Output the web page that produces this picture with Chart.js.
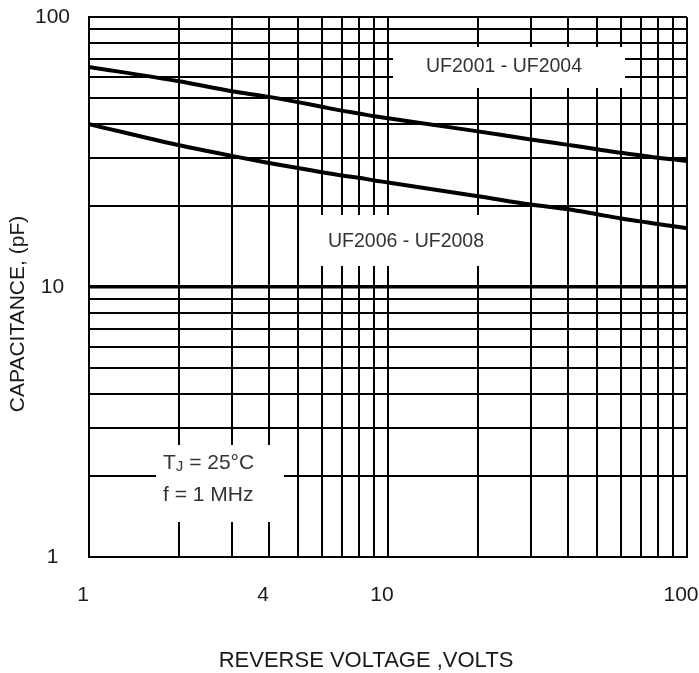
<!DOCTYPE html>
<html>
<head>
<meta charset="utf-8">
<script src="https://cdn.jsdelivr.net/npm/chart.js@4/dist/chart.umd.min.js"></script>
<style>
  body { margin: 0; background: #fff; }
  #wrap { width: 699px; height: 673px; }
</style>
</head>
<body>
<div id="wrap"><canvas id="js--chart" width="699" height="673"></canvas></div>
<script>
// reverse voltage (V) and capacitance (pF)
const voltage = [1, 2, 3, 4, 5, 6, 7, 8, 9, 10, 20, 30, 40, 50, 60, 70, 80, 90, 100];
const capUF2001 = [65.3, 57.8, 53.1, 50.6, 48.4, 46.5, 45.0, 43.9, 42.9, 42.2, 37.7, 35.2, 33.6, 32.4, 31.4, 30.7, 30.1, 29.7, 29.3];
const capUF2006 = [40.1, 33.5, 30.6, 28.8, 27.6, 26.6, 25.9, 25.4, 24.8, 24.4, 21.7, 20.2, 19.4, 18.6, 17.95, 17.5, 17.1, 16.8, 16.5];

const xGrid = [1, 2, 3, 4, 5, 6, 7, 8, 9, 10, 20, 30, 40, 50, 60, 70, 80, 90, 100];
const yGrid = [1, 2, 3, 4, 5, 6, 7, 8, 9, 10, 20, 30, 40, 50, 60, 70, 80, 90, 100];
const xLabels = [1, 4, 10, 100];
const yLabels = [1, 10, 100];

const FONT = "'Liberation Sans', Arial, sans-serif";

function points(ys) {
    return voltage.map(function (v, i) { return { x: v, y: ys[i] }; });
}

const notes = {
    id: "notes",
    afterDatasetsDraw: function (chart) {
        const ctx = chart.ctx;
        ctx.save();
        // white boxes behind the labels cut the grid
        ctx.fillStyle = "#fff";
        ctx.fillRect(393, 47, 232, 41);
        ctx.fillRect(308, 215, 187, 51);
        ctx.fillRect(156, 445, 128, 77);

        ctx.fillStyle = "#333";
        ctx.textBaseline = "middle";
        ctx.textAlign = "center";
        ctx.font = "19.5px " + FONT;
        ctx.fillText("UF2001 - UF2004", 504, 67);
        ctx.fillText("UF2006 - UF2008", 406, 242);

        ctx.textAlign = "left";
        ctx.font = "21px " + FONT;
        ctx.fillText("T", 163, 463);
        let tx = 163 + ctx.measureText("T").width;
        ctx.font = "15px " + FONT;
        ctx.fillText("J", tx, 467);
        tx += ctx.measureText("J").width;
        ctx.font = "21px " + FONT;
        ctx.fillText(" = 25°C", tx, 463);
        ctx.fillText("f = 1 MHz", 163, 495);
        ctx.restore();
    },
    afterDraw: function (chart) {
        const ctx = chart.ctx;
        ctx.save();
        ctx.fillStyle = "#1a1a1a";
        ctx.textAlign = "center";
        ctx.textBaseline = "middle";
        ctx.font = "22px " + FONT;
        ctx.fillText("REVERSE VOLTAGE ,VOLTS", 366, 661);
        ctx.translate(18, 314);
        ctx.rotate(-Math.PI / 2);
        ctx.font = "21px " + FONT;
        ctx.fillText("CAPACITANCE, (pF)", 0, 0);
        ctx.restore();
    }
};

const config = {
    type: "line",
    data: {
        datasets: [
            {
                label: "UF2001 - UF2004",
                data: points(capUF2001),
                borderColor: "#000",
                borderWidth: 4,
                pointRadius: 0,
                cubicInterpolationMode: "monotone"
            },
            {
                label: "UF2006 - UF2008",
                data: points(capUF2006),
                borderColor: "#000",
                borderWidth: 4,
                pointRadius: 0,
                cubicInterpolationMode: "monotone"
            }
        ]
    },
    options: {
        responsive: false,
        animation: false,
        layout: { padding: { top: 17, right: 12, bottom: 0, left: 0 } },
        plugins: {
            legend: { display: false },
            tooltip: { enabled: false }
        },
        scales: {
            x: {
                type: "logarithmic",
                min: 1,
                max: 100,
                afterBuildTicks: function (scale) {
                    scale.ticks = xGrid.map(function (v) { return { value: v }; });
                },
                afterFit: function (scale) {
                    scale.height = 116;
                    scale.paddingLeft = 0;
                    scale.paddingRight = 0;
                },
                grid: { color: "#000", lineWidth: 2, drawTicks: false },
                border: { display: true, color: "#000", width: 2 },
                ticks: {
                    autoSkip: false,
                    maxRotation: 0,
                    padding: 26,
                    labelOffset: -6,
                    color: "#1a1a1a",
                    font: { family: FONT, size: 21 },
                    callback: function (v) { return xLabels.includes(v) ? String(v) : ""; }
                }
            },
            y: {
                type: "logarithmic",
                min: 1,
                max: 100,
                afterBuildTicks: function (scale) {
                    scale.ticks = yGrid.map(function (v) { return { value: v }; });
                },
                afterFit: function (scale) {
                    scale.width = 89;
                    scale.paddingTop = 0;
                    scale.paddingBottom = 0;
                },
                grid: {
                    color: "#000",
                    lineWidth: function (c) { return c.tick && c.tick.value === 10 ? 3.5 : 2; },
                    drawTicks: false
                },
                border: { display: true, color: "#000", width: 2 },
                ticks: {
                    autoSkip: false,
                    padding: 19,
                    crossAlign: "center",
                    color: "#1a1a1a",
                    font: { family: FONT, size: 21 },
                    callback: function (v) { return yLabels.includes(v) ? String(v) : ""; }
                }
            }
        }
    },
    plugins: [notes]
};

new Chart(document.getElementById("js--chart"), config);
</script>
</body>
</html>
